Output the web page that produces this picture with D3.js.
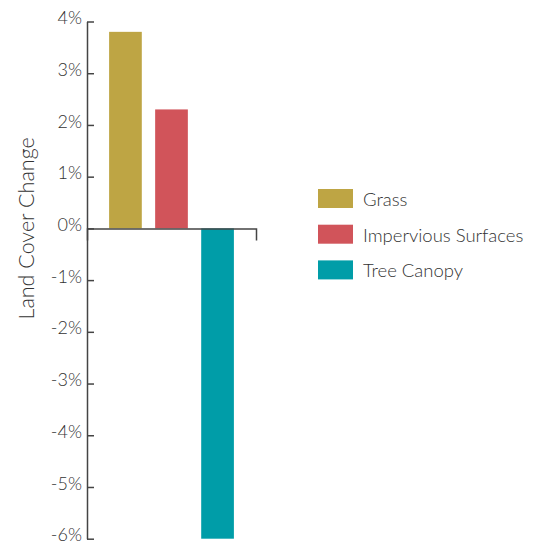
<!DOCTYPE html>
<html>
<head>
<meta charset="utf-8">
<script src="https://cdn.jsdelivr.net/npm/d3@7"></script>
<style>
  html, body { margin: 0; padding: 0; background: #fff; }
  svg text { font-family: Lato, "Open Sans", sans-serif; font-weight: 300; fill: #333; }
</style>
</head>
<body>
<svg id="chart" width="541" height="544"></svg>
<script>
// Land cover change by category (percent)
const categories = ["Grass", "Impervious Surfaces", "Tree Canopy"];
const values = [3.8, 2.3, -6.0];
const colors = ["#BEA544", "#D1545A", "#009DA8"];
const yTicks = [4, 3, 2, 1, 0, -1, -2, -3, -4, -5, -6];
const yTitle = "Land Cover Change";

const svg = d3.select("#chart");
const axisColor = "#444";

const x = d3.scaleBand()
  .domain(categories)
  .range([87, 256])
  .paddingInner(0.29)
  .paddingOuter(0.48);

const y = d3.scaleLinear()
  .domain([-6, 4])
  .range([538.7, 21.5]);

// bars
svg.append("g").selectAll("rect")
  .data(categories)
  .join("rect")
  .attr("x", d => x(d))
  .attr("width", x.bandwidth())
  .attr("y", (d, i) => y(Math.max(0, values[i])))
  .attr("height", (d, i) => Math.abs(y(values[i]) - y(0)))
  .attr("fill", (d, i) => colors[i]);

// y axis, ticks pointing inward
const yAxis = svg.append("g")
  .attr("transform", "translate(87,0)")
  .call(d3.axisLeft(y)
    .tickValues(yTicks)
    .tickFormat(d => d + "%")
    .tickSize(-7)
    .tickSizeOuter(0)
    .tickPadding(5));
yAxis.select(".domain").attr("stroke", axisColor).attr("stroke-width", 1.5);
yAxis.selectAll(".tick line").attr("stroke", axisColor).attr("stroke-width", 1.5);
yAxis.selectAll(".tick text")
  .attr("font-size", 18)
  .attr("dy", "0.12em")
  .style("font-family", "Lato, sans-serif")
  .style("font-weight", 300)
  .attr("fill", "#333");

// zero baseline with a closing tick at the right end
const xAxis = svg.append("g")
  .attr("transform", `translate(0,${y(0)})`)
  .call(d3.axisBottom(x).tickValues([]).tickSizeOuter(12));
xAxis.select(".domain").attr("stroke", axisColor).attr("stroke-width", 1.5);

// y axis title
svg.append("text")
  .attr("transform", `translate(34,${y(0)}) rotate(-90)`)
  .attr("text-anchor", "middle")
  .attr("font-size", 21.5)
  .text(yTitle);

// legend
const legend = svg.append("g").attr("transform", "translate(318,189)");
const rows = legend.selectAll("g")
  .data(categories)
  .join("g")
  .attr("transform", (d, i) => `translate(0,${i * 35.7})`);
rows.append("rect")
  .attr("width", 35)
  .attr("height", 19)
  .attr("fill", (d, i) => colors[i]);
rows.append("text")
  .attr("x", 45)
  .attr("y", 17)
  .attr("font-size", 18.5)
  .text(d => d);
</script>
</body>
</html>
